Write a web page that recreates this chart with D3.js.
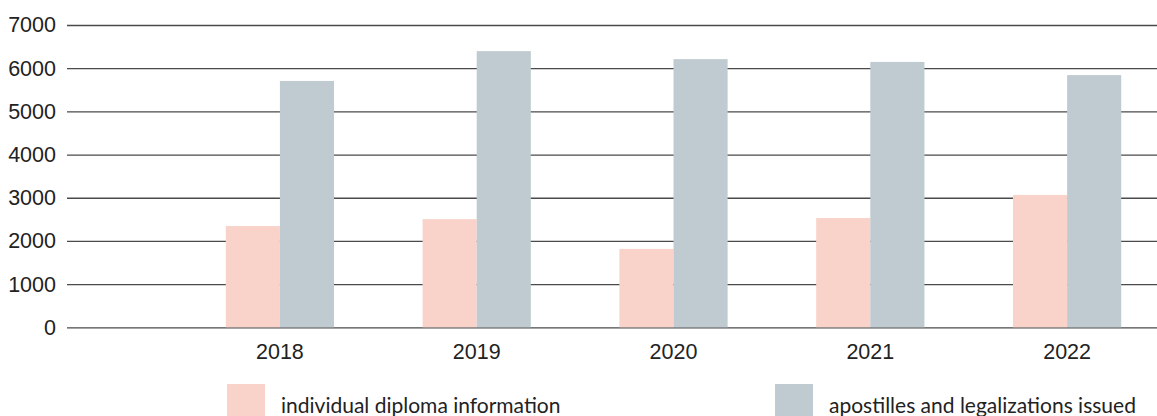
<!DOCTYPE html>
<html>
  <head>
    <meta charset="utf-8">
    <title>Diplomas and apostilles</title>
    <script src="https://cdn.jsdelivr.net/npm/d3@7"></script>
    <style type="text/css">
        body { margin: 0; background: #fff; }
        svg { display: block; font-family: Lato, "Open Sans", sans-serif; }
    </style>
  </head>
  <body>
    <div id="viz"></div>
    <script type="text/javascript">

    var years = ["2018", "2019", "2020", "2021", "2022"];
    var diplomaInfo = [2345, 2505, 1815, 2530, 3065];
    var apostilles = [5705, 6395, 6210, 6145, 5840];
    var seriesNames = ["individual diploma information", "apostilles and legalizations issued"];
    var yTicks = [0, 1000, 2000, 3000, 4000, 5000, 6000, 7000];

    var colors = ["#f9d3ca", "#c0cbd1"];
    var width = 1157, height = 416;

    var svg = d3.select("#viz").append("svg")
        .attr("width", width)
        .attr("height", height);

    var y = d3.scaleLinear().domain([0, 7000]).range([327.3, 25]);
    var x = d3.scaleBand().domain(years).range([181.5, 1165.5]).paddingInner(0.45).paddingOuter(0.225);
    var xSub = d3.scaleBand().domain([0, 1]).range([0, x.bandwidth()]);

    // gridlines + y labels
    var yAxis = svg.append("g")
        .attr("transform", "translate(67,0)")
        .call(d3.axisLeft(y).tickValues(yTicks).tickSize(-(width - 67)).tickPadding(11).tickFormat(d3.format("d")));
    yAxis.select(".domain").remove();
    yAxis.selectAll(".tick line").attr("stroke", "#4a4a4a").attr("stroke-width", 1.3);
    yAxis.selectAll(".tick text").attr("fill", "#222").style("font-size", "21.5px");

    // bars
    var groups = svg.selectAll("g.year")
        .data(years)
        .enter().append("g")
        .attr("class", "year")
        .attr("transform", function(d) { return "translate(" + x(d) + ",0)"; });

    groups.selectAll("rect")
        .data(function(d, i) { return [diplomaInfo[i], apostilles[i]]; })
        .enter().append("rect")
        .attr("x", function(d, j) { return xSub(j); })
        .attr("y", function(d) { return y(d); })
        .attr("width", xSub.bandwidth())
        .attr("height", function(d) { return y(0) - y(d); })
        .attr("fill", function(d, j) { return colors[j]; });

    // x labels
    var xAxis = svg.append("g")
        .attr("transform", "translate(0,327.3)")
        .call(d3.axisBottom(x).tickSize(0).tickPadding(16));
    xAxis.select(".domain").remove();
    xAxis.selectAll(".tick text").attr("fill", "#222").style("font-size", "21.5px");

    // legend
    var legendX = [227, 775];
    var legend = svg.selectAll("g.legend")
        .data(seriesNames)
        .enter().append("g")
        .attr("class", "legend")
        .attr("transform", function(d, i) { return "translate(" + legendX[i] + ",384)"; });
    legend.append("rect")
        .attr("width", 38).attr("height", 34)
        .attr("fill", function(d, i) { return colors[i]; });
    legend.append("text")
        .attr("x", 54).attr("y", 28.5)
        .attr("fill", "#222")
        .style("font-size", "21px")
        .text(function(d) { return d; });

    </script>
  </body>
</html>
